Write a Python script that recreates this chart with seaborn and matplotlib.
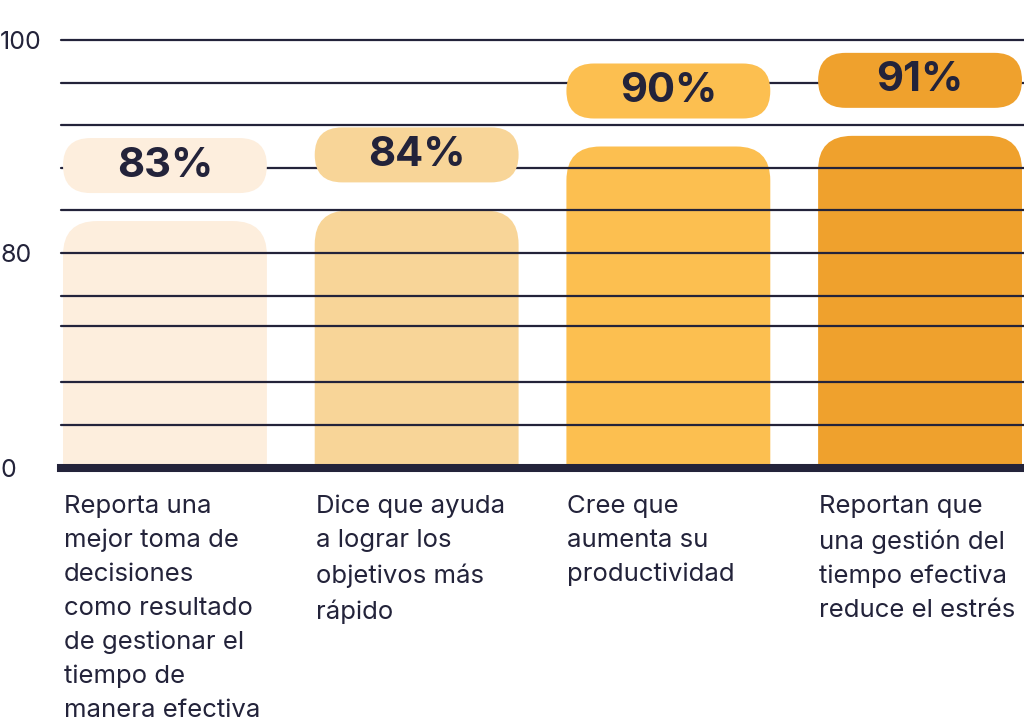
import numpy as np
import pandas as pd
import matplotlib
matplotlib.use("Agg")
import matplotlib.pyplot as plt
import seaborn as sns
from matplotlib.patches import FancyBboxPatch
from matplotlib.transforms import IdentityTransform

# ---------------- data ----------------
categories = [
    "Reporta una\nmejor toma de\ndecisiones\ncomo resultado\nde gestionar el\ntiempo de\nmanera efectiva",
    "Dice que ayuda\na lograr los\nobjetivos más\nrápido",
    "Cree que\naumenta su\nproductividad",
    "Reportan que\nuna gestión del\ntiempo efectiva\nreduce el estrés",
]
values = [83, 84, 90, 91]
value_labels = ["83%", "84%", "90%", "91%"]
ytick_values = [0, 80, 100]
ytick_labels = ["0", "80", "100"]
grid_values = [16, 32, 53, 64, 80, 84, 88, 92, 96, 100]
bar_colors = ["#fdeedd", "#f8d598", "#fcbf50", "#efa12d"]

# ---------------- style ----------------
DARK = "#23233a"
W, H, DPI = 1024, 724, 100
sns.set_theme(style="white")
plt.rcParams["font.family"] = ["Inter", "DejaVu Sans"]

fig = plt.figure(figsize=(W / DPI, H / DPI), dpi=DPI)
ax = fig.add_axes([61 / W, 256 / H, 963 / W, 428 / H])

# broken (piecewise-linear) value axis: 0-80 compressed, 80-100 expanded
knots_v = [0, 80, 100]
knots_p = [0, 215, 428]
ax.set_yscale("function",
              functions=(lambda v: np.interp(v, knots_v, knots_p),
                         lambda p: np.interp(p, knots_p, knots_v)))

df = pd.DataFrame({"cat": categories, "val": values})
sns.barplot(data=df, x="cat", y="val", hue="cat", palette=bar_colors,
            saturation=1, width=0.81, legend=False, ax=ax)

ax.set_xlim(-0.413, 3.413)
ax.set_ylim(0, 100)
ax.set_xlabel("")
ax.set_ylabel("")
ax.set_xticks([])
ax.grid(False)

ax.set_yticks(ytick_values, ytick_labels)
ax.tick_params(axis="y", length=0, pad=61 / DPI * 72, labelsize=18, labelcolor=DARK)
for t in ax.get_yticklabels():
    t.set_ha("left")

for v in grid_values:
    ax.axhline(v, color=DARK, lw=1.6, zorder=2, clip_on=False)

for s in ["top", "right", "left"]:
    ax.spines[s].set_visible(False)
ax.spines["bottom"].set_color(DARK)
ax.spines["bottom"].set_linewidth(5.8)
ax.spines["bottom"].set_zorder(6)

# ---------------- rounded bars, pills and labels ----------------
R_BAR = 34
PILL_H = 55
PILL_GAP = 28
ident = IdentityTransform()
bars = [c.patches[0] for c in ax.containers]
for bar, lab, cat in zip(bars, value_labels, categories):
    bar.set_visible(False)
    fc = bar.get_facecolor()
    x0, y0 = ax.transData.transform((bar.get_x(), 0))
    x1, y1 = ax.transData.transform((bar.get_x() + bar.get_width(), bar.get_height()))
    w = x1 - x0
    rb = FancyBboxPatch((x0, y0 - 2 * R_BAR), w, (y1 - y0) + 2 * R_BAR,
                        boxstyle=f"round,pad=0,rounding_size={R_BAR}",
                        transform=ident, facecolor=fc, edgecolor="none", zorder=1)
    ax.add_artist(rb)
    rb.set_clip_path(ax.patch)

    pb = y1 + PILL_GAP
    pill = FancyBboxPatch((x0, pb), w, PILL_H,
                          boxstyle=f"round,pad=0,rounding_size={PILL_H / 2}",
                          transform=ident, facecolor=fc, edgecolor="none", zorder=3)
    ax.add_artist(pill)
    pill.set_clip_on(False)
    ax.text(x0 + w / 2, pb + PILL_H / 2, lab, transform=ident, ha="center",
            va="center", fontsize=30, fontweight="bold", color=DARK, zorder=4,
            clip_on=False)

    ax.text(x0 + 1, y0 - 27, cat, transform=ident, ha="left", va="top",
            fontsize=18.5, color=DARK, linespacing=1.59, clip_on=False)

fig.savefig("out.png", dpi=DPI, facecolor="white")
